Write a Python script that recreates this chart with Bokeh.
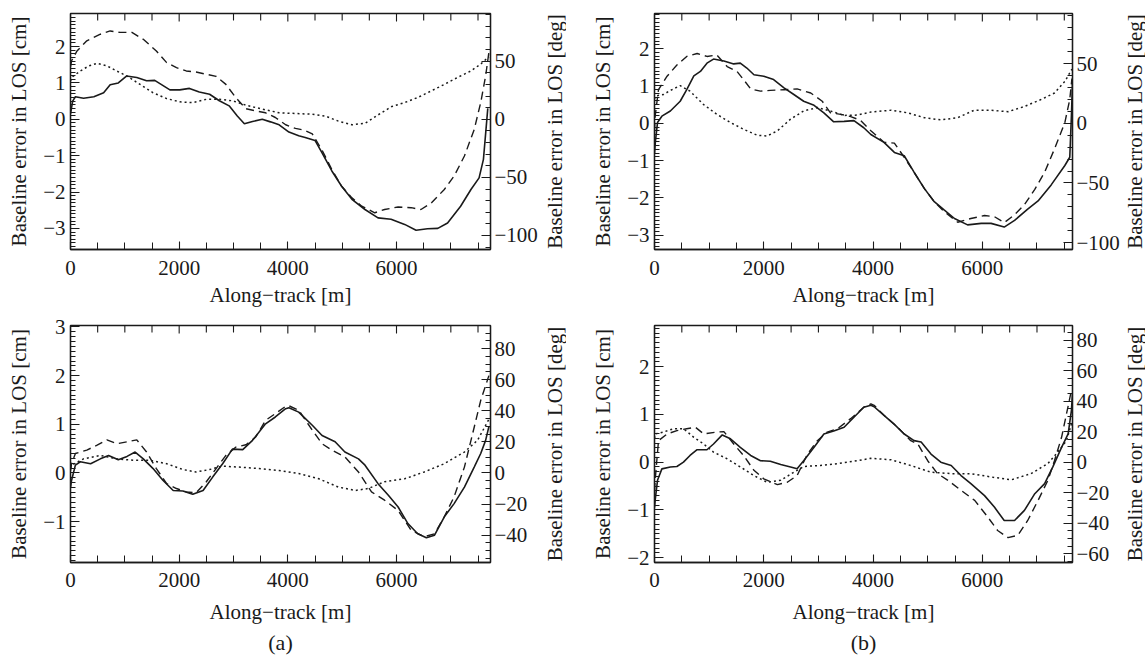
import math
from bokeh.plotting import figure
from bokeh.models import (Range1d, LinearAxis, SingleIntervalTicker,
                          CustomJSTickFormatter, Title, Label)
from bokeh.layouts import column, row
from bokeh.embed import file_html
from bokeh.resources import INLINE

# ---------------- data (values in cm; right axis is the same quantity in deg) ----------------
CM_TO_DEG = 31.3

# Panel (a), top
A_TOP_SOLID_X = [0, 40, 90, 240, 430, 610, 730, 880, 1030, 1220, 1400, 1550, 1830, 2010, 2190, 2370, 2560, 2740, 2920, 3070, 3200, 3350, 3530, 3680, 3840, 4020, 4200, 4320, 4500, 4630, 4810, 4990, 5180, 5420, 5660, 5900, 6150, 6360, 6570, 6760, 6940, 7180, 7370, 7520, 7600, 7640, 7680]
A_TOP_SOLID_Y = [0.15, 0.5, 0.62, 0.58, 0.62, 0.73, 0.95, 1.0, 1.19, 1.15, 1.06, 1.07, 0.81, 0.81, 0.85, 0.75, 0.69, 0.51, 0.37, 0.09, -0.12, -0.06, 0.0, -0.07, -0.15, -0.35, -0.45, -0.5, -0.58, -0.92, -1.42, -1.84, -2.2, -2.48, -2.71, -2.75, -2.89, -3.05, -3.01, -3.0, -2.85, -2.39, -1.93, -1.61, -1.1, -0.4, 0.3]
A_TOP_DASH_X = [0, 20, 120, 300, 550, 730, 910, 1130, 1340, 1580, 1770, 1950, 2130, 2310, 2500, 2680, 2860, 3040, 3230, 3410, 3590, 3770, 3960, 4140, 4300, 4450, 4630, 4810, 4990, 5180, 5360, 5600, 5780, 6030, 6270, 6450, 6640, 6880, 7060, 7250, 7430, 7550, 7640, 7700]
A_TOP_DASH_Y = [1.45, 1.61, 1.88, 2.16, 2.34, 2.43, 2.39, 2.39, 2.2, 1.88, 1.56, 1.42, 1.33, 1.3, 1.24, 1.18, 0.96, 0.6, 0.29, 0.23, 0.18, 0.05, -0.15, -0.25, -0.3, -0.4, -0.85, -1.38, -1.84, -2.16, -2.39, -2.57, -2.48, -2.41, -2.43, -2.48, -2.3, -1.93, -1.56, -1.01, -0.28, 0.46, 1.19, 1.84]
A_TOP_DOT_X = [0, 20, 180, 340, 490, 670, 850, 1040, 1280, 1520, 1770, 2010, 2250, 2500, 2740, 2980, 3230, 3530, 3840, 4140, 4450, 4690, 4930, 5180, 5420, 5660, 5910, 6150, 6390, 6640, 6880, 7120, 7370, 7550, 7700]
A_TOP_DOT_Y = [1.05, 1.15, 1.33, 1.47, 1.54, 1.47, 1.33, 1.19, 0.96, 0.73, 0.57, 0.48, 0.46, 0.55, 0.55, 0.51, 0.39, 0.28, 0.18, 0.16, 0.14, 0.09, -0.05, -0.15, -0.11, 0.12, 0.35, 0.46, 0.6, 0.78, 0.96, 1.15, 1.33, 1.52, 1.72]

# Panel (a), bottom
A_BOT_SOLID_X = [0, 20, 90, 180, 370, 550, 700, 880, 1040, 1190, 1340, 1520, 1700, 1890, 2070, 2250, 2440, 2620, 2800, 2980, 3170, 3350, 3590, 3770, 3960, 4020, 4200, 4450, 4630, 4870, 5050, 5300, 5420, 5660, 5850, 6030, 6210, 6390, 6550, 6700, 6880, 7060, 7250, 7430, 7550, 7640, 7700]
A_BOT_SOLID_Y = [-0.3, -0.15, 0.16, 0.23, 0.19, 0.29, 0.36, 0.27, 0.34, 0.43, 0.29, 0.09, -0.15, -0.36, -0.37, -0.44, -0.36, -0.08, 0.19, 0.49, 0.48, 0.67, 1.01, 1.15, 1.32, 1.34, 1.25, 0.98, 0.77, 0.64, 0.43, 0.29, 0.16, -0.22, -0.46, -0.7, -1.04, -1.25, -1.33, -1.28, -0.9, -0.63, -0.29, 0.12, 0.4, 0.67, 0.95]
A_BOT_DASH_X = [0, 20, 90, 300, 490, 670, 850, 1040, 1220, 1400, 1580, 1770, 1950, 2130, 2310, 2500, 2680, 2860, 3040, 3230, 3410, 3590, 3770, 3960, 4020, 4200, 4450, 4630, 4810, 5050, 5300, 5540, 5780, 6030, 6270, 6510, 6700, 6880, 7060, 7250, 7430, 7550, 7700]
A_BOT_DASH_Y = [0.05, 0.19, 0.4, 0.47, 0.57, 0.68, 0.6, 0.64, 0.68, 0.43, 0.09, -0.22, -0.32, -0.39, -0.41, -0.18, 0.09, 0.36, 0.53, 0.58, 0.74, 1.08, 1.22, 1.37, 1.38, 1.29, 0.88, 0.6, 0.47, 0.33, 0.02, -0.39, -0.56, -0.77, -1.18, -1.31, -1.25, -0.9, -0.49, 0.12, 0.94, 1.49, 2.0]
A_BOT_DOT_X = [0, 20, 240, 550, 850, 1160, 1460, 1770, 2070, 2310, 2560, 2800, 3100, 3470, 3840, 4200, 4570, 4930, 5240, 5480, 5780, 6150, 6510, 6880, 7250, 7490, 7700]
A_BOT_DOT_Y = [0.1, 0.16, 0.29, 0.36, 0.29, 0.26, 0.26, 0.19, 0.07, 0.02, 0.07, 0.14, 0.12, 0.09, 0.05, -0.01, -0.12, -0.29, -0.36, -0.32, -0.18, -0.12, 0.02, 0.19, 0.43, 0.67, 1.1]

# Panel (b), top
B_TOP_SOLID_X = [0, 15, 55, 135, 290, 470, 590, 720, 840, 960, 1080, 1270, 1450, 1570, 1690, 1820, 2000, 2180, 2370, 2550, 2730, 2920, 3100, 3280, 3470, 3650, 3830, 3960, 4200, 4390, 4570, 4750, 4940, 5120, 5300, 5490, 5730, 5980, 6160, 6400, 6590, 6830, 7020, 7260, 7510, 7600, 7630, 7650]
B_TOP_SOLID_Y = [-0.8, -0.51, 0.02, 0.19, 0.33, 0.59, 0.9, 1.27, 1.39, 1.61, 1.72, 1.67, 1.59, 1.61, 1.48, 1.3, 1.26, 1.17, 0.95, 0.77, 0.59, 0.48, 0.28, 0.04, 0.05, 0.07, -0.12, -0.3, -0.51, -0.78, -0.87, -1.31, -1.75, -2.1, -2.32, -2.55, -2.72, -2.68, -2.68, -2.78, -2.6, -2.3, -2.08, -1.65, -1.13, -0.91, 0.2, 1.08]
B_TOP_DASH_X = [0, 12, 73, 230, 410, 590, 780, 960, 1140, 1330, 1510, 1630, 1760, 1940, 2120, 2370, 2610, 2860, 3070, 3220, 3410, 3590, 3770, 3960, 4200, 4390, 4570, 4750, 4940, 5120, 5300, 5550, 5790, 6040, 6220, 6400, 6590, 6770, 6960, 7140, 7320, 7510, 7600, 7640]
B_TOP_DASH_Y = [-0.2, 0.19, 0.9, 1.26, 1.56, 1.79, 1.87, 1.79, 1.83, 1.52, 1.39, 1.17, 0.92, 0.86, 0.88, 0.9, 0.92, 0.81, 0.59, 0.28, 0.24, 0.18, 0.08, -0.2, -0.51, -0.53, -0.91, -1.31, -1.75, -2.1, -2.36, -2.65, -2.55, -2.47, -2.5, -2.66, -2.45, -2.18, -1.77, -1.31, -0.69, 0.02, 0.64, 1.2]
B_TOP_DOT_X = [0, 12, 165, 290, 470, 650, 900, 1140, 1390, 1630, 1880, 2060, 2250, 2490, 2730, 2980, 3220, 3470, 3710, 3960, 4330, 4630, 4940, 5240, 5550, 5850, 6160, 6470, 6770, 7080, 7320, 7510, 7640]
B_TOP_DOT_Y = [0.65, 0.73, 0.77, 0.88, 1.01, 0.86, 0.5, 0.24, 0.02, -0.16, -0.32, -0.34, -0.2, 0.11, 0.33, 0.42, 0.33, 0.21, 0.22, 0.3, 0.35, 0.28, 0.15, 0.09, 0.15, 0.35, 0.35, 0.31, 0.45, 0.64, 0.81, 1.12, 1.45]

# Panel (b), bottom
B_BOT_SOLID_X = [0, 12, 55, 135, 290, 410, 530, 650, 780, 960, 1080, 1240, 1390, 1570, 1760, 1940, 2120, 2310, 2490, 2610, 2730, 2920, 3100, 3280, 3470, 3650, 3830, 3960, 4020, 4200, 4390, 4570, 4750, 4880, 5060, 5240, 5430, 5610, 5790, 6040, 6220, 6400, 6590, 6770, 6960, 7140, 7290, 7450, 7570, 7630, 7650]
B_BOT_SOLID_Y = [-0.95, -0.8, -0.38, -0.14, -0.1, -0.09, 0.0, 0.14, 0.26, 0.26, 0.38, 0.57, 0.49, 0.31, 0.14, 0.03, 0.02, -0.05, -0.1, -0.14, 0.03, 0.31, 0.59, 0.65, 0.73, 0.94, 1.15, 1.19, 1.16, 0.98, 0.79, 0.59, 0.45, 0.42, 0.17, 0.0, -0.07, -0.28, -0.45, -0.7, -0.94, -1.22, -1.22, -1.01, -0.66, -0.45, -0.1, 0.31, 0.59, 1.08, 1.43]
B_BOT_DASH_X = [0, 12, 73, 230, 410, 590, 750, 900, 1140, 1270, 1450, 1630, 1820, 2000, 2250, 2430, 2610, 2800, 2980, 3160, 3350, 3590, 3830, 3960, 4020, 4200, 4450, 4690, 4820, 5000, 5180, 5370, 5610, 5860, 6100, 6280, 6470, 6650, 6830, 7020, 7200, 7320, 7450, 7540, 7630]
B_BOT_DASH_Y = [-0.6, -0.38, 0.45, 0.59, 0.66, 0.7, 0.73, 0.59, 0.63, 0.64, 0.38, 0.14, -0.17, -0.35, -0.47, -0.42, -0.28, 0.17, 0.45, 0.63, 0.7, 0.91, 1.15, 1.22, 1.19, 0.98, 0.73, 0.45, 0.38, 0.03, -0.24, -0.38, -0.59, -0.8, -1.15, -1.43, -1.58, -1.53, -1.22, -0.8, -0.38, 0.03, 0.52, 1.01, 1.5]
B_BOT_DOT_X = [0, 12, 165, 350, 530, 720, 900, 1080, 1330, 1570, 1820, 2060, 2310, 2550, 2730, 3040, 3350, 3650, 3960, 4330, 4690, 5060, 5430, 5790, 6160, 6530, 6890, 7200, 7380, 7540, 7630]
B_BOT_DOT_Y = [0.5, 0.59, 0.63, 0.7, 0.7, 0.52, 0.38, 0.21, 0.07, -0.1, -0.28, -0.42, -0.38, -0.21, -0.09, -0.07, -0.03, 0.02, 0.08, 0.05, -0.07, -0.21, -0.24, -0.24, -0.31, -0.37, -0.24, -0.03, 0.21, 0.45, 0.8]

X_LABEL = "Along\u2212track [m]"
Y_LABEL_CM = "Baseline error in LOS [cm]"
Y_LABEL_DEG = "Baseline error in LOS [deg]"

# ---------------- styling ----------------
FONT = "Liberation Serif"
INK = "#1a1a1a"
FS = "21px"
MINUS_FMT = "return (tick < 0 ? '\u2212' : '') + Math.abs(Math.round(tick * 1000) / 1000).toString();"
X_TICK = 2000
X_MINOR = 500


def style_axis(ax, major_in, minor_in):
    ax.major_tick_in = major_in
    ax.major_tick_out = 0
    ax.minor_tick_in = minor_in
    ax.minor_tick_out = 0
    ax.axis_line_color = INK
    ax.axis_line_width = 1.3
    ax.major_tick_line_color = INK
    ax.minor_tick_line_color = INK
    ax.major_tick_line_width = 1.1
    ax.minor_tick_line_width = 1.0
    ax.major_label_text_font = FONT
    ax.major_label_text_font_size = FS
    ax.major_label_text_color = INK
    ax.major_label_standoff = 5
    ax.axis_label_text_font = FONT
    ax.axis_label_text_font_size = FS
    ax.axis_label_text_font_style = "normal"
    ax.axis_label_text_color = INK
    ax.formatter = CustomJSTickFormatter(code=MINUS_FMT)


def make_panel(xmax, ylim, deg_interval, deg_minor, series, frame_w, frame_h,
               mb_left, mb_right, mb_top, mb_bottom, xl_standoff, xt_standoff, caption=None):
    p = figure(frame_width=frame_w, frame_height=frame_h,
               x_range=Range1d(0, xmax), y_range=Range1d(ylim[0], ylim[1]),
               output_backend="svg", toolbar_location=None,
               min_border_left=mb_left, min_border_right=mb_right,
               min_border_top=mb_top, min_border_bottom=mb_bottom,
               background_fill_color="white", border_fill_color="white")
    p.grid.visible = False
    p.outline_line_color = INK
    p.outline_line_width = 1.3
    p.extra_y_ranges = {"deg": Range1d(ylim[0] * CM_TO_DEG, ylim[1] * CM_TO_DEG)}

    p.xaxis.ticker = SingleIntervalTicker(interval=X_TICK, num_minor_ticks=X_TICK // X_MINOR)
    style_axis(p.xaxis[0], 8, 7)
    p.xaxis.major_label_standoff = xt_standoff
    p.xaxis.axis_label = X_LABEL
    p.xaxis.axis_label_standoff = xl_standoff

    p.yaxis.ticker = SingleIntervalTicker(interval=1, num_minor_ticks=10)
    style_axis(p.yaxis[0], 9, 5)
    p.yaxis.axis_label = Y_LABEL_CM
    p.yaxis.axis_label_standoff = 9

    right = LinearAxis(y_range_name="deg",
                       ticker=SingleIntervalTicker(interval=deg_interval, num_minor_ticks=deg_minor))
    style_axis(right, 9, 5)
    right.major_label_standoff = 4
    p.add_layout(right, "right")

    # mirrored inward ticks along the top edge of the frame
    top_ticks = [i * X_MINOR for i in range(int(xmax // X_MINOR) + 1)]
    top_len = [8 if t % X_TICK == 0 else 7 for t in top_ticks]
    p.ray(x=top_ticks, y=[ylim[1]] * len(top_ticks), length=top_len, length_units="screen",
          angle=-math.pi / 2, line_color=INK, line_width=1.1)

    for (xs, ys, kind) in series:
        if kind == "solid":
            p.line(xs, ys, line_color=INK, line_width=1.6)
        elif kind == "dash":
            p.line(xs, ys, line_color=INK, line_width=1.4, line_dash="8 5")
        else:
            p.line(xs, ys, line_color=INK, line_width=1.5, line_dash="2 3")

    if caption:
        p.add_layout(Title(text=caption, align="center", text_font=FONT,
                           text_font_size="22px", text_font_style="normal",
                           text_color=INK, standoff=3), "below")
    return p


def side_title(width, frame_h, mb_top, mb_bottom):
    """Narrow strip carrying the right-hand (deg) axis title, reading bottom to top."""
    d = figure(frame_width=width, frame_height=frame_h,
               x_range=Range1d(0, 1), y_range=Range1d(0, 1),
               x_axis_location=None, y_axis_location=None,
               output_backend="svg", toolbar_location=None,
               min_border_left=0, min_border_right=0,
               min_border_top=mb_top, min_border_bottom=mb_bottom,
               outline_line_color=None, background_fill_color="white",
               border_fill_color="white")
    d.grid.visible = False
    d.add_layout(Label(x=0.5, y=0.5, text=Y_LABEL_DEG, angle=math.pi / 2,
                       text_align="center", text_baseline="middle",
                       text_font=FONT, text_font_size=FS, text_color=INK))
    return d


pa1 = make_panel(7730, (-3.58, 2.91), 50, 5,
                 [(A_TOP_SOLID_X, A_TOP_SOLID_Y, "solid"),
                  (A_TOP_DASH_X, A_TOP_DASH_Y, "dash"),
                  (A_TOP_DOT_X, A_TOP_DOT_Y, "dot")],
                 420, 236, 70, 52, 13, 63, 5, 11)
pb1 = make_panel(7650, (-3.38, 2.94), 50, 5,
                 [(B_TOP_SOLID_X, B_TOP_SOLID_Y, "solid"),
                  (B_TOP_DASH_X, B_TOP_DASH_Y, "dash"),
                  (B_TOP_DOT_X, B_TOP_DOT_Y, "dot")],
                 418, 236, 88, 51, 13, 63, 5, 11)
pa2 = make_panel(7730, (-1.84, 3.03), 20, 4,
                 [(A_BOT_SOLID_X, A_BOT_SOLID_Y, "solid"),
                  (A_BOT_DASH_X, A_BOT_DASH_Y, "dash"),
                  (A_BOT_DOT_X, A_BOT_DOT_Y, "dot")],
                 420, 237, 70, 52, 13, 80, 10, 10, caption="(a)")
pb2 = make_panel(7650, (-2.10, 2.86), 20, 4,
                 [(B_BOT_SOLID_X, B_BOT_SOLID_Y, "solid"),
                  (B_BOT_DASH_X, B_BOT_DASH_Y, "dash"),
                  (B_BOT_DOT_X, B_BOT_DOT_Y, "dot")],
                 418, 237, 88, 51, 13, 80, 10, 10, caption="(b)")

sa1 = side_title(24, 236, 13, 0)
sb1 = side_title(22, 236, 13, 0)
sa2 = side_title(24, 237, 13, 0)
sb2 = side_title(22, 237, 13, 0)

layout = column(row(pa1, sa1, pb1, sb1), row(pa2, sa2, pb2, sb2))
open("out.html", "w").write(file_html(layout, INLINE))
